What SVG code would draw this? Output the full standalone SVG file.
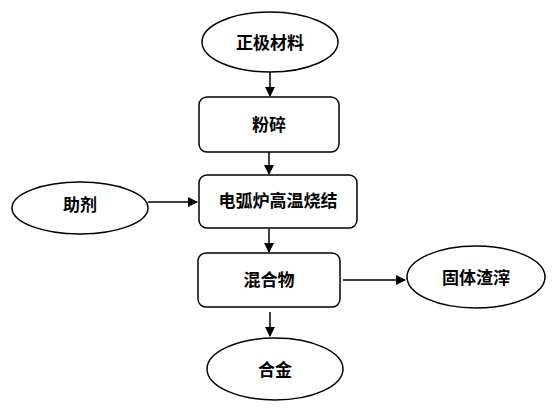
<svg xmlns="http://www.w3.org/2000/svg" width="552" height="409" viewBox="0 0 552 409">
<defs>
<marker id="ah" markerWidth="10" markerHeight="10" refX="9" refY="5" orient="auto" markerUnits="userSpaceOnUse">
<path d="M0,0 L10,5 L0,10 Z" fill="#000"/>
</marker>
<style>
.n{fill:#fff;stroke:#000;stroke-width:1.5}
.t{font-family:"Liberation Sans","Noto Sans CJK SC",sans-serif;font-size:17px;font-weight:bold;text-anchor:middle;dominant-baseline:central;fill:#000}
.c{stroke:#000;stroke-width:1.5;fill:none;marker-end:url(#ah)}
</style>
</defs>
<rect width="552" height="409" fill="#fff"/>
<g id="connectors">
<line class="c" x1="270" y1="72" x2="270" y2="96"/>
<line class="c" x1="269" y1="152" x2="269" y2="174"/>
<line class="c" x1="148" y1="202" x2="197" y2="202"/>
<line class="c" x1="269" y1="229" x2="269" y2="252"/>
<line class="c" x1="343" y1="280" x2="405" y2="280"/>
<line class="c" x1="270" y1="312" x2="270" y2="336"/>
</g>
<g id="n1"><ellipse class="n" cx="270" cy="42" rx="68" ry="30"/><text class="t" x="270" y="43">正极材料</text></g>
<g id="n2"><rect class="n" x="199" y="97" width="140" height="55" rx="8"/><text class="t" x="269" y="125">粉碎</text></g>
<g id="n3"><ellipse class="n" cx="80" cy="208" rx="68" ry="26"/><text class="t" x="80" y="205">助剂</text></g>
<g id="n4"><rect class="n" x="199" y="175" width="158" height="53" rx="8"/><text class="t" x="278" y="201">电弧炉高温烧结</text></g>
<g id="n5"><rect class="n" x="198" y="253" width="142" height="54" rx="8"/><text class="t" x="269" y="280">混合物</text></g>
<g id="n6"><ellipse class="n" cx="476" cy="277" rx="69" ry="31"/><text class="t" x="476" y="278">固体渣滓</text></g>
<g id="n7"><ellipse class="n" cx="275" cy="369" rx="68" ry="31"/><text class="t" x="275" y="370">合金</text></g>
</svg>
